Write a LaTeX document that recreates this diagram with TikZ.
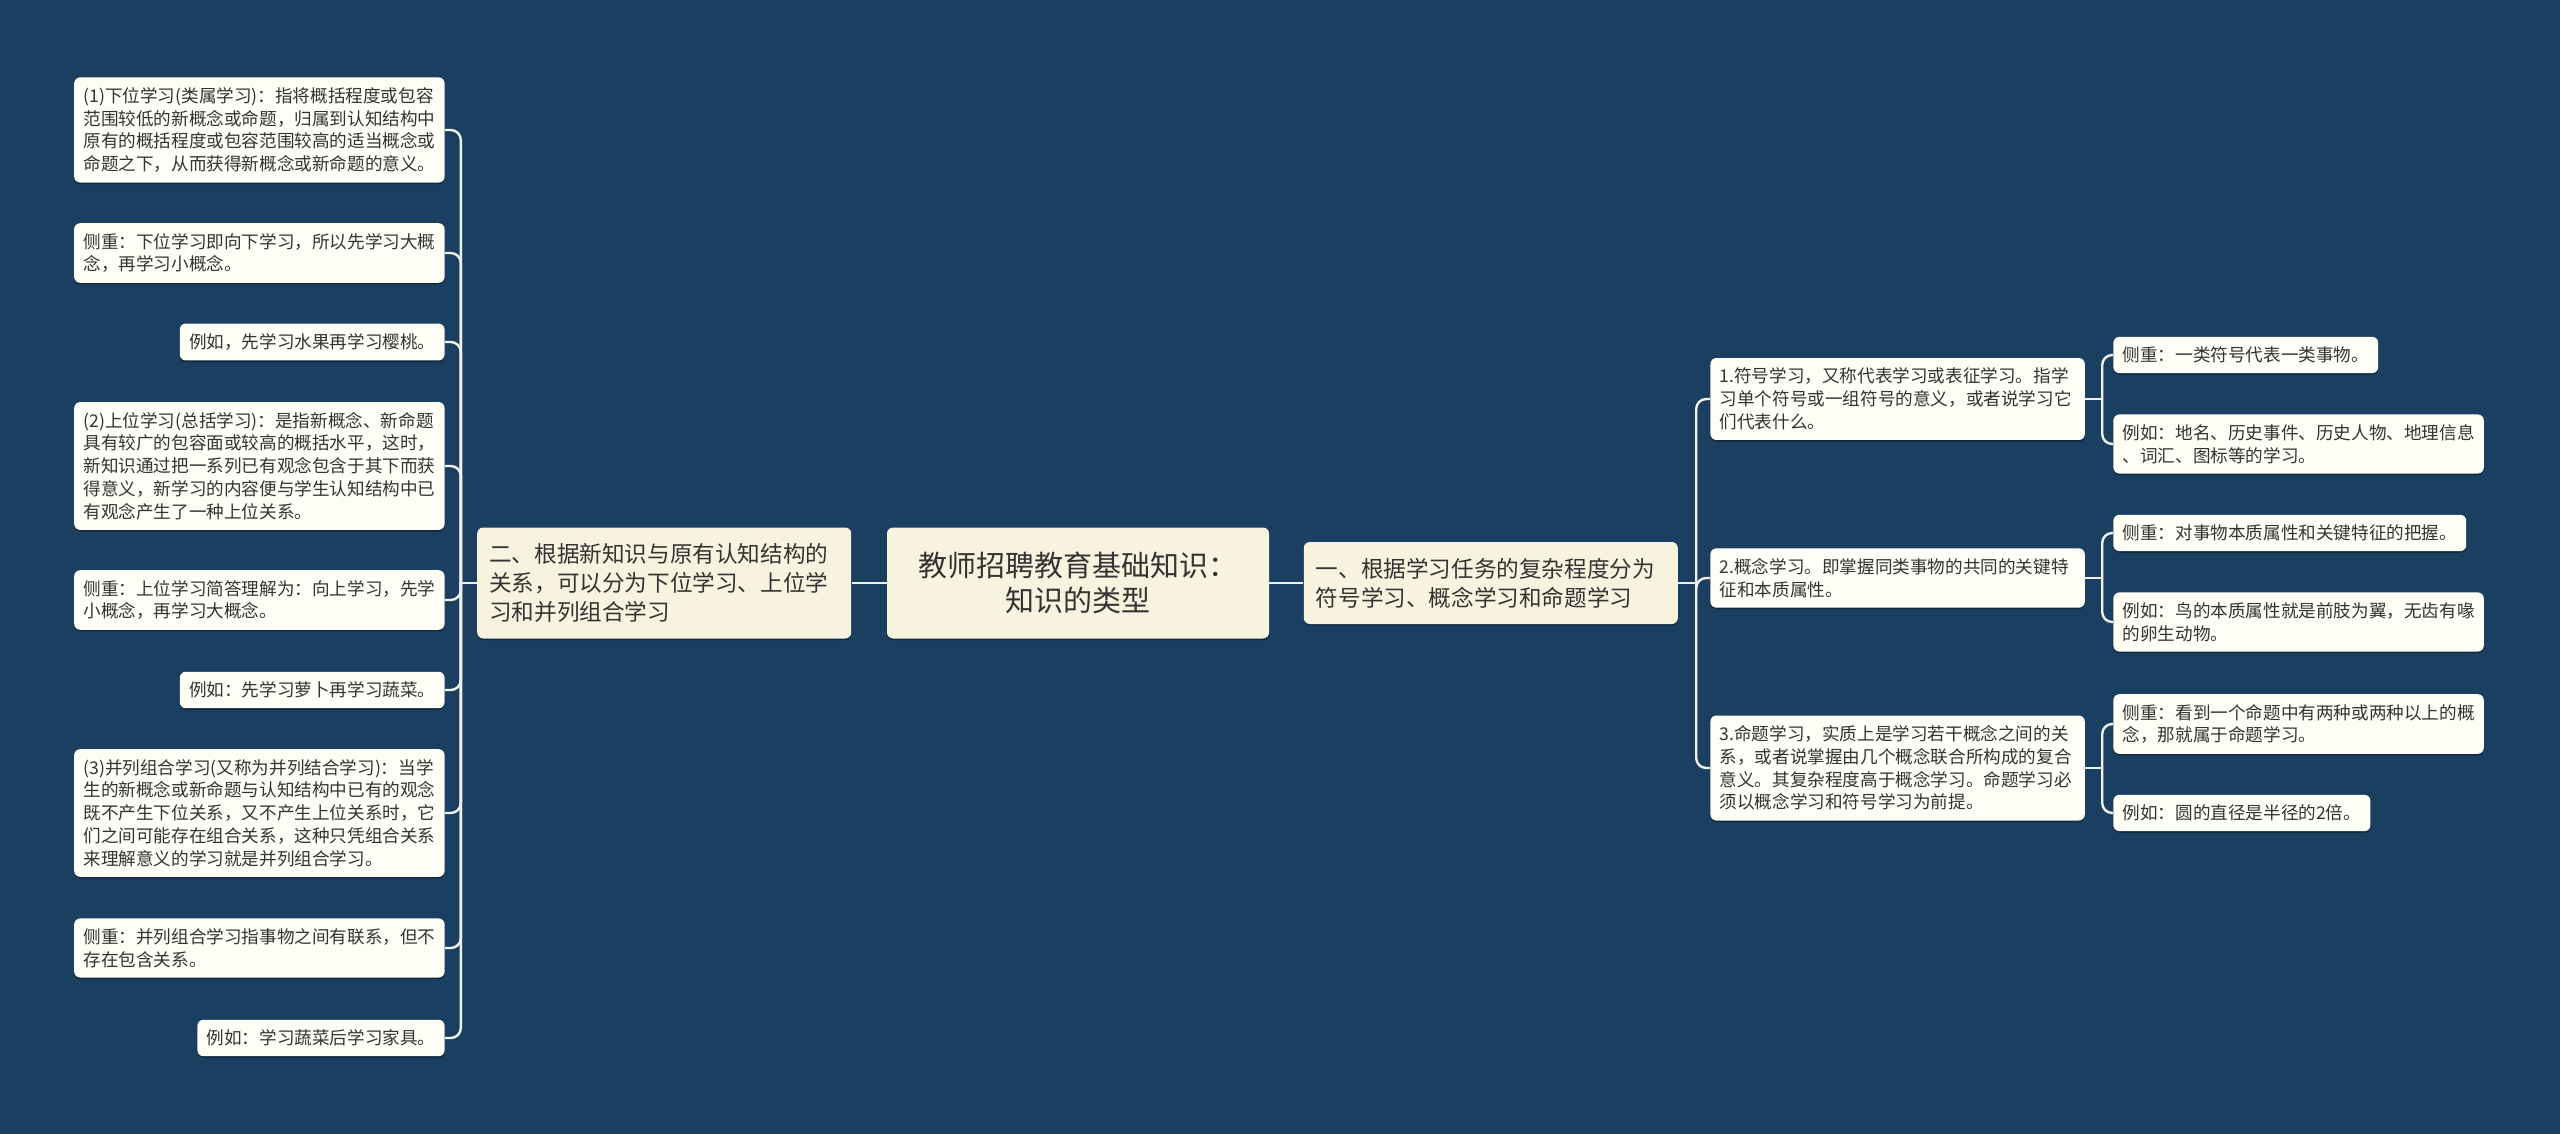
\documentclass[tikz,border=0pt]{standalone}
\usepackage{fontspec}
\setmainfont{Noto Sans CJK SC}
\usepackage{tikz}
\usetikzlibrary{positioning,shadows}
\definecolor{bgblue}{HTML}{1B3F60}
\definecolor{rootfill}{HTML}{F8F3DE}
\definecolor{leaffill}{HTML}{FEFEF7}
\definecolor{txt}{HTML}{333333}
\definecolor{linkc}{HTML}{F0F0EC}
\tikzset{
	basebox/.style={rounded corners=3pt, text=txt, drop shadow={shadow xshift=0pt, shadow yshift=-0.8pt, opacity=0.35, fill=black}},
	mainbox/.style={basebox, fill=rootfill},
	subbox/.style={mainbox, text width=175pt, align=left, inner xsep=6pt, font=\fontsize{11.3}{14.6}\selectfont},
	leafbox/.style={basebox, fill=leaffill, align=left, inner xsep=4.6pt, inner ysep=5pt, font=\fontsize{8.8}{11.4}\selectfont},
	midbox/.style={leafbox, text width=178pt},
	linkline/.style={draw=linkc, line width=1.2pt},
	busline/.style={linkline, rounded corners=5pt},
}

\begin{document}
\begin{tikzpicture}[x=0.5pt, y=-0.5pt]
	\useasboundingbox (0,0) rectangle (2560,1134);
	\fill[bgblue] (0,0) rectangle (2560,1134);

	\node (root) [mainbox, align=center, minimum width=191pt, minimum height=55.5pt, font=\fontsize{14.5}{17.5}\selectfont] at (1078,583) {教师招聘教育基础知识：\\知识的类型};
	\node (L) [subbox, minimum height=55.5pt, left=17.5pt of root] {二、根据新知识与原有认知结构的\\关系，可以分为下位学习、上位学\\习和并列组合学习};
	\node (R) [subbox, minimum height=41pt, right=17pt of root] {一、根据学习任务的复杂程度分为\\符号学习、概念学习和命题学习};

	\node (L1) [leafbox, anchor=east] at (445,130) {(1)下位学习(类属学习)：指将概括程度或包容\\范围较低的新概念或命题，归属到认知结构中\\原有的概括程度或包容范围较高的适当概念或\\命题之下，从而获得新概念或新命题的意义。};
	\node (L2) [leafbox, anchor=east] at (445,253) {侧重：下位学习即向下学习，所以先学习大概\\念，再学习小概念。};
	\node (L3) [leafbox, anchor=east] at (445,342) {例如，先学习水果再学习樱桃。};
	\node (L4) [leafbox, anchor=east] at (445,466) {(2)上位学习(总括学习)：是指新概念、新命题\\具有较广的包容面或较高的概括水平，这时，\\新知识通过把一系列已有观念包含于其下而获\\得意义，新学习的内容便与学生认知结构中已\\有观念产生了一种上位关系。};
	\node (L5) [leafbox, anchor=east] at (445,600) {侧重：上位学习简答理解为：向上学习，先学\\小概念，再学习大概念。};
	\node (L6) [leafbox, anchor=east] at (445,690) {例如：先学习萝卜再学习蔬菜。};
	\node (L7) [leafbox, anchor=east] at (445,813) {(3)并列组合学习(又称为并列结合学习)：当学\\生的新概念或新命题与认知结构中已有的观念\\既不产生下位关系，又不产生上位关系时，它\\们之间可能存在组合关系，这种只凭组合关系\\来理解意义的学习就是并列组合学习。};
	\node (L8) [leafbox, anchor=east] at (445,948) {侧重：并列组合学习指事物之间有联系，但不\\存在包含关系。};
	\node (L9) [leafbox, anchor=east] at (445,1038) {例如：学习蔬菜后学习家具。};

	\node (R1) [midbox, anchor=west] at (1710,399) {1.符号学习，又称代表学习或表征学习。指学\\习单个符号或一组符号的意义，或者说学习它\\们代表什么。};
	\node (R2) [midbox, anchor=west] at (1710,578) {2.概念学习。即掌握同类事物的共同的关键特\\征和本质属性。};
	\node (R3) [midbox, anchor=west] at (1710,768) {3.命题学习，实质上是学习若干概念之间的关\\系，或者说掌握由几个概念联合所构成的复合\\意义。其复杂程度高于概念学习。命题学习必\\须以概念学习和符号学习为前提。};

	\node (R1a) [leafbox, anchor=west] at (2113,355) {侧重：一类符号代表一类事物。};
	\node (R1b) [leafbox, anchor=west] at (2113,444) {例如：地名、历史事件、历史人物、地理信息\\、词汇、图标等的学习。};
	\node (R2a) [leafbox, anchor=west] at (2113,533) {侧重：对事物本质属性和关键特征的把握。};
	\node (R2b) [leafbox, anchor=west] at (2113,622) {例如：鸟的本质属性就是前肢为翼，无齿有喙\\的卵生动物。};
	\node (R3a) [leafbox, anchor=west] at (2113,724) {侧重：看到一个命题中有两种或两种以上的概\\念，那就属于命题学习。};
	\node (R3b) [leafbox, anchor=west] at (2113,813) {例如：圆的直径是半径的2倍。};

	\draw[linkline] (root.west) -- (L.east);
	\draw[linkline] (root.east) -- (R.west);

	\coordinate (Lb) at ([xshift=-8pt]L.west);
	\draw[linkline] (L.west) -- (Lb);
	\foreach \i in {1,...,9}
		\draw[busline] (Lb) |- (L\i.east);

	\coordinate (Rb) at ([xshift=9pt]R.east);
	\draw[linkline] (R.east) -- (Rb);
	\foreach \n in {R1,R2,R3}
		\draw[busline] (Rb) |- (\n.west);

	\foreach \p in {R1,R2,R3}
		\draw[linkline] (\p.east) -- ++(8.5pt,0);
	\foreach \p/\c in {R1/R1a, R1/R1b, R2/R2a, R2/R2b, R3/R3a, R3/R3b}
		\draw[busline] ([xshift=8.5pt]\p.east) |- (\c.west);
\end{tikzpicture}
\end{document}
